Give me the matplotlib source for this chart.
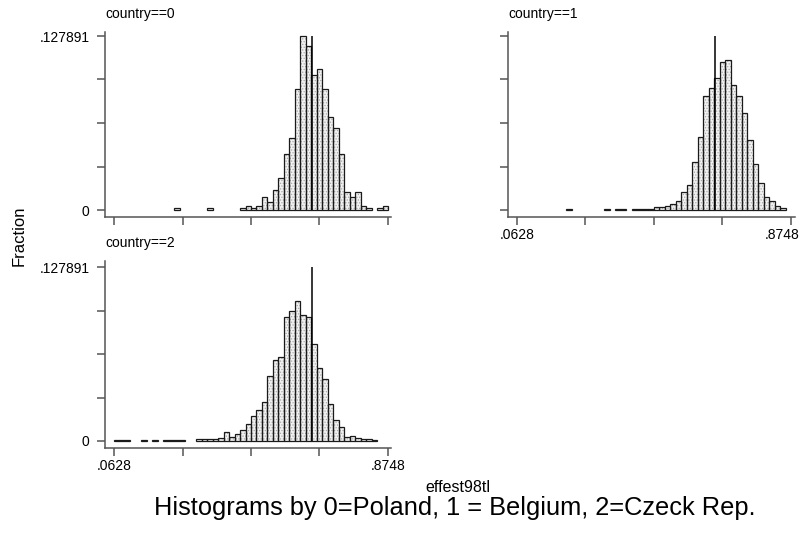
import numpy as np
import matplotlib
matplotlib.use("Agg")
import matplotlib.pyplot as plt
from matplotlib.transforms import ScaledTranslation

plt.rcParams['font.family'] = ['Liberation Sans', 'DejaVu Sans']
plt.rcParams['hatch.linewidth'] = 0.6

# bin edges for effest98tl (50 bins from min to max)
xmin, xmax = 0.0628, 0.8748
nbins = 50
edges = np.linspace(xmin, xmax, nbins + 1)
ymax = 0.127891
xline = 0.651

# fraction per bin
frac_poland = [0, 0, 0, 0, 0, 0, 0, 0, 0, 0,
               0, 0.0015, 0, 0, 0, 0, 0, 0.0015, 0, 0,
               0, 0, 0, 0.0015, 0.0029, 0.0015, 0.0029, 0.0098, 0.0061, 0.0147,
               0.0233, 0.0412, 0.0531, 0.0887, 0.127891, 0.1208, 0.0990, 0.1034, 0.0887, 0.0681,
               0.0605, 0.0412, 0.0135, 0.0098, 0.0135, 0.0029, 0.0015, 0, 0.0015, 0.0029]
frac_belgium = [0, 0, 0, 0, 0, 0, 0, 0, 0, 0.0005,
                0, 0, 0, 0, 0, 0, 0.0005, 0, 0.0005, 0.0005,
                0, 0.0005, 0.0005, 0.0007, 0.0010, 0.0020, 0.0020, 0.0029, 0.0042, 0.0069,
                0.0135, 0.0181, 0.0355, 0.0539, 0.0838, 0.0894, 0.0968, 0.1085, 0.1103, 0.0921,
                0.0838, 0.0711, 0.0515, 0.0336, 0.0196, 0.0093, 0.0064, 0.0029, 0.0012, 0]
frac_czech = [0.0005, 0.0005, 0.0008, 0, 0, 0.0005, 0, 0.0005, 0, 0.0008,
              0.0008, 0.0005, 0.0005, 0, 0, 0.0012, 0.0012, 0.0012, 0.0012, 0.0025,
              0.0069, 0.0030, 0.0054, 0.0079, 0.0123, 0.0187, 0.0231, 0.0288, 0.0482, 0.0600,
              0.0620, 0.0910, 0.0957, 0.1033, 0.0925, 0.0910, 0.0711, 0.0536, 0.0455, 0.0275,
              0.0157, 0.0103, 0.0030, 0.0039, 0.0025, 0.0012, 0.0015, 0.0005, 0, 0]

W, H = 800, 537
fig = plt.figure(figsize=(W / 100, H / 100), dpi=100)


def panel(left, tick0, tick4, right, top, ytop, yzero, bottom):
    # all arguments in pixels from the top-left corner
    ax = fig.add_axes([left / W, 1 - bottom / H, (right - left) / W, (bottom - top) / H])
    sx = (tick4 - tick0) / (xmax - xmin)
    sy = (yzero - ytop) / ymax
    ax.set_xlim(xmin - (tick0 - left) / sx, xmax + (right - tick4) / sx)
    ax.set_ylim(-(bottom - yzero) / sy, ymax + (ytop - top) / sy)
    for s in ['top', 'right']:
        ax.spines[s].set_visible(False)
    for s in ['left', 'bottom']:
        ax.spines[s].set_color('#555555')
        ax.spines[s].set_linewidth(1.1)
    ax.set_xticks(np.linspace(xmin, xmax, 5))
    ax.set_yticks(np.linspace(0, ymax, 5))
    ax.tick_params(length=6, width=1.1, color='#555555', labelsize=10, pad=2)
    ax.tick_params(axis='y', pad=5)
    return ax


def draw(ax, frac, name):
    frac = np.array(frac)
    keep = frac > 0  # empty bins draw nothing
    x = edges[:-1][keep]
    w = np.diff(edges)[keep]
    # stippled fill, then dark outlines on top
    ax.bar(x, frac[keep], width=w, align='edge',
           facecolor='#f2f2f2', edgecolor='#a8a8a8', hatch='......', linewidth=0)
    ax.bar(x, frac[keep], width=w, align='edge',
           facecolor='none', edgecolor='#1a1a1a', linewidth=0.9)
    ax.vlines(xline, 0, ymax, color='black', linewidth=1.1)
    ax.set_title(name, loc='left', fontsize=10, pad=10)


ax1 = panel(105, 114, 388, 391, 31.7, 36, 210, 217)
draw(ax1, frac_poland, 'country==0')
ax1.set_xticklabels([])
ax1.set_yticklabels(['0', '', '', '', '.127891'])

ax2 = panel(508, 516.7, 791, 795, 31.7, 36, 210, 217)
draw(ax2, frac_belgium, 'country==1')
ax2.set_xticklabels(['.0628', '', '', '', '.8748'])
ax2.set_yticklabels([])
last = ax2.get_xticklabels()[-1]
last.set_horizontalalignment('right')
last.set_transform(last.get_transform() + ScaledTranslation(0.08, 0, fig.dpi_scale_trans))

ax3 = panel(105, 114, 388, 391, 260.7, 267.3, 441, 448.3)
draw(ax3, frac_czech, 'country==2')
ax3.set_xticklabels(['.0628', '', '', '', '.8748'])
ax3.set_yticklabels(['0', '', '', '', '.127891'])

fig.text(19 / W, 1 - 236 / H, 'Fraction', rotation=90, fontsize=12,
         ha='center', va='center')
fig.text(458 / W, 1 - 488 / H, 'effest98tl', fontsize=11.5, ha='center', va='center')
fig.text(455 / W, 1 - 508 / H, 'Histograms by 0=Poland, 1 = Belgium, 2=Czeck Rep.',
         fontsize=18.3, ha='center', va='center')

fig.savefig('out.png', dpi=100)
